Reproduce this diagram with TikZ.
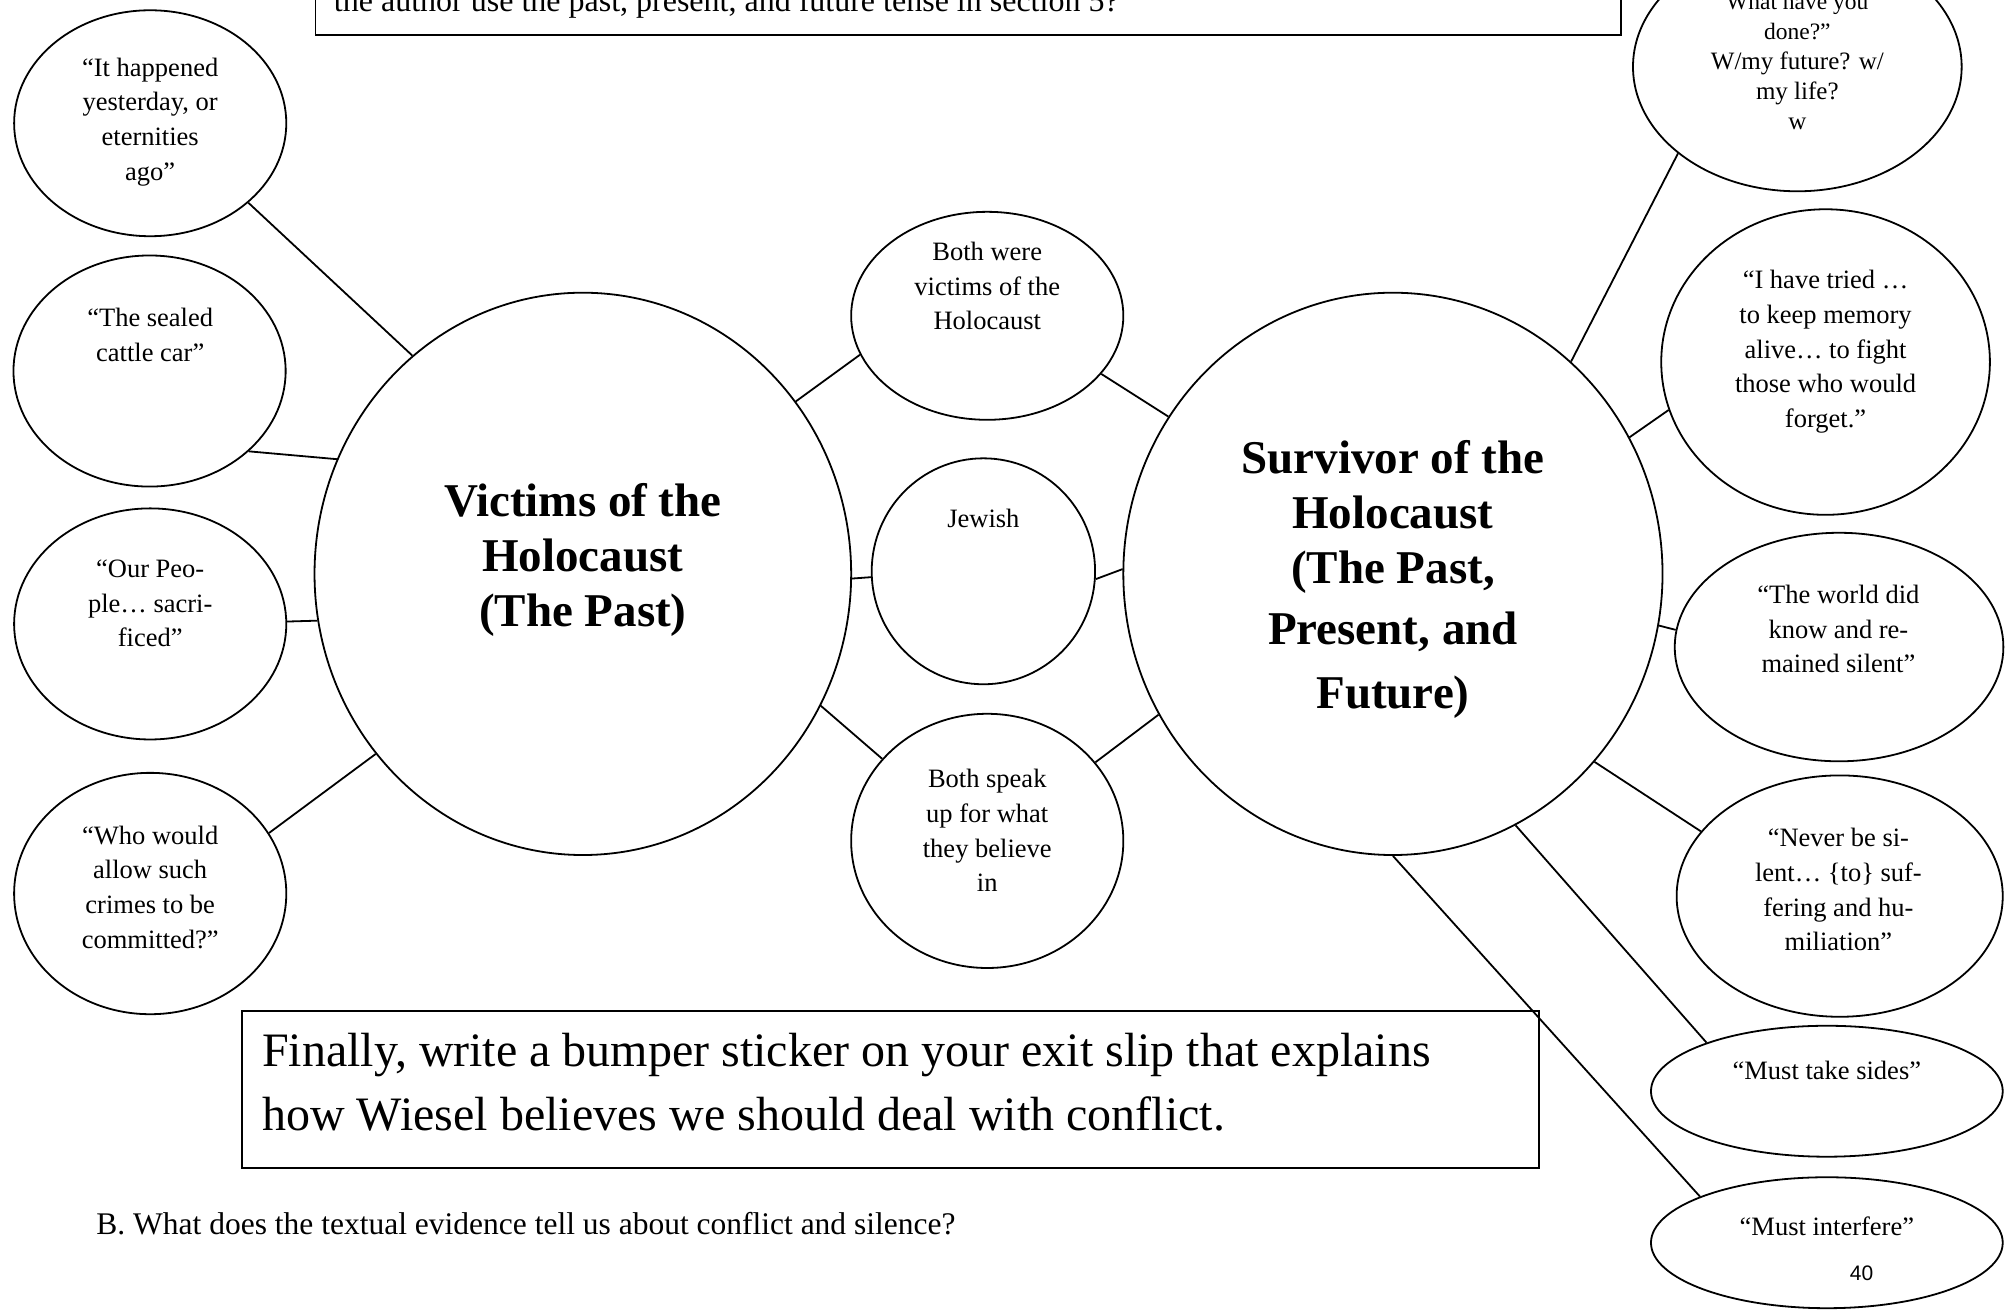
\documentclass[tikz,border=0pt]{standalone}
\usepackage{fontspec}
\setmainfont{Liberation Serif}
\newfontfamily\arialfont{Liberation Sans}
\usetikzlibrary{shapes.geometric}
\begin{document}
\begin{tikzpicture}[x=1.2838pt, y=-1.2838pt,
  ell/.style={draw, ellipse, inner sep=0pt, line width=1.8pt},
  sz/.style 2 args={minimum width={#1*2.5676pt}, minimum height={#2*2.5676pt}},
  txt/.style={align=center, inner sep=0pt, font=\fontsize{26.5}{34.6}\selectfont},
  big/.style={align=center, inner sep=0pt, font=\fontsize{47}{55}\selectfont\bfseries},
  link/.style={line width=1.8pt},
  box/.style={draw, rectangle, line width=1.8pt, inner sep=0pt}
]
\useasboundingbox (0,0) rectangle (1568,1020);
\clip (0,0) rectangle (1568,1020);

% top box (cut off by page top)
\node[box, minimum width={1017*1.2838pt}, minimum height={100*1.2838pt}, anchor=south west] (topbox) at (245,28) {};
\node[anchor=base west, inner sep=0pt, font=\fontsize{32}{38}\selectfont] (toptext) at (260,9) {the author use the past, present, and future tense in section 5?};

% left ellipses
\node[ell, sz={106}{88}] (e1) at (117,96) {};
\node[txt] (e1t) at (117,95) {“It happened\\yesterday, or\\eternities\\ago”};
\node[ell, sz={106}{90}] (e2) at (116.5,289) {};
\node[txt] (e2t) at (117,261) {“The sealed\\cattle car”};
\node[ell, sz={106}{90}] (e3) at (117,486) {};
\node[txt] (e3t) at (117,470) {“Our Peo-\\ple… sacri-\\ficed”};
\node[ell, sz={106}{94}] (e4) at (117,696) {};
\node[txt] (e4t) at (117,691) {“Who would\\allow such\\crimes to be\\committed?”};

% big circles
\node[ell, sz={209}{219}] (L) at (454,447) {};
\node[big] (Lt) at (454,436) {Victims of the\\Holocaust\\(The Past)};
\node[ell, sz={210}{219}] (R) at (1085,447) {};
\node[big] (Rt) at (1085,451) {Survivor of the\\Holocaust\\(The Past,\\[6pt]Present, and\\[9pt]Future)};

% middle circles
\node[ell, sz={106}{81}] (B1) at (769,246) {};
\node[txt] (B1t) at (769,223) {Both were\\victims of the\\Holocaust};
\node[ell, sz={87}{88}] (J) at (766,445) {};
\node[txt] (Jt) at (766,404) {Jewish};
\node[ell, sz={106}{99}] (B3) at (769,655) {};
\node[txt] (B3t) at (769,647) {Both speak\\up for what\\they believe\\in};

% right ellipses
\node[ell, sz={128}{97}] (T) at (1400,52) {};
\node[txt, font=\fontsize{25}{30}\selectfont] (Tt) at (1400,48) {{\fontsize{23.5}{28}\selectfont What have you}\\{\fontsize{23.5}{28}\selectfont done?”}\\W/my future? w/\\my life?\\w};
\node[ell, sz={128}{119}] (I) at (1422,282) {};
\node[txt] (It) at (1422,274) {“I have tried …\\to keep memory\\alive… to fight\\those who would\\forget.”};
\node[ell, sz={128}{89}] (W) at (1432.5,504) {};
\node[txt] (Wt) at (1432,490) {“The world did\\know and re-\\mained silent”};
\node[ell, sz={127}{94}] (N) at (1433,698) {};
\node[txt] (Nt) at (1432,693) {“Never be si-\\lent… \{to\} suf-\\fering and hu-\\miliation”};
\node[ell, sz={137}{51}] (S) at (1423,850) {};
\node[txt] (St) at (1423,834) {“Must take sides”};
\node[ell, sz={137}{51}] (M) at (1423,968) {};
\node[txt] (Mt) at (1423,955) {“Must interfere”};
\node[inner sep=0pt, font=\arialfont\fontsize{21}{25}\selectfont] (pg) at (1450,992) {40};

% bumper box
\node[box, minimum width={1010*1.2838pt}, minimum height={122*1.2838pt}, anchor=north west] (bump) at (188,787) {};
\node[anchor=west, align=left, inner sep=0pt, font=\fontsize{48}{64}\selectfont] (bumptext) at (204,843) {Finally, write a bumper sticker on your exit slip that explains\\how Wiesel believes we should deal with conflict.};

% question B
\node[anchor=west, inner sep=0pt, font=\fontsize{31.5}{38}\selectfont] (qb) at (75,953) {B. What does the textual evidence tell us about conflict and silence?};

% connectors
\draw[link] (e1.-39.6) -- (L.128.8);
\draw[link] (e2.-39.8) -- (L.155.6);
\draw[link] (e3.1) -- (L.190);
\draw[link] (e4.27.8) -- (L.221.4);
\draw[link] (L.39.9) -- (B1.197.3);
\draw[link] (L.-1.4) -- (J.183.3);
\draw[link] (L.-29.7) -- (B3.142.2);
\draw[link] (B1.-27.8) -- (R.145.6);
\draw[link] (J.-4.6) -- (R.179.2);
\draw[link] (B3.36) -- (R.211);
\draw[link] (R.50.6) -- (T.216.4);
\draw[link] (R.30.2) -- (I.197.5);
\draw[link] (R.-11.6) -- (W.174.2);
\draw[link] (R.-43.1) -- (N.155.7);
\draw[link] (R.-64.9) -- (S.158.7);
\draw[link] (R.-90) -- (M.160);
\end{tikzpicture}
\end{document}
